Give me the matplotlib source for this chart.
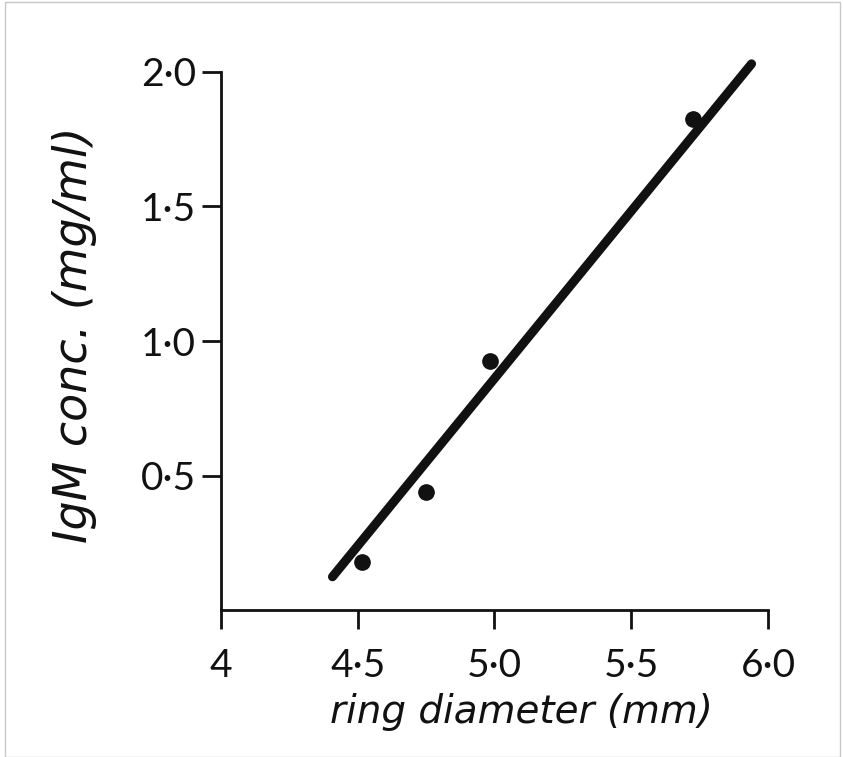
# IgM concentration vs ring diameter (calibration line)
import matplotlib
matplotlib.use('Agg')
import matplotlib.pyplot as plt
from matplotlib.patches import Rectangle

ring_diam = [4.516, 4.75, 4.985, 5.726]
igm_conc = [0.18, 0.44, 0.926, 1.825]

fit_x = [4.408, 5.94]
fit_y = [0.124, 2.03]

xticks = [4.0, 4.5, 5.0, 5.5, 6.0]
xticklabels = ['4', '4·5', '5·0', '5·5', '6·0']
yticks = [0.5, 1.0, 1.5, 2.0]
yticklabels = ['0·5', '1·0', '1·5', '2·0']

plt.rcParams['font.family'] = ['DejaVu Sans']

fig = plt.figure(figsize=(8.43, 7.57), dpi=100)
ax = fig.add_axes([0.262, 0.194, 0.649, 0.711])

ax.plot(fit_x, fit_y, color='#111111', lw=6.5, solid_capstyle='round', clip_on=False)
ax.plot(ring_diam, igm_conc, 'o', color='#111111', ms=11, clip_on=False)

ax.set_xlim(4.0, 6.0)
ax.set_ylim(0, 2.0)
ax.spines['top'].set_visible(False)
ax.spines['right'].set_visible(False)
for s in ['left', 'bottom']:
    ax.spines[s].set_linewidth(2)
    ax.spines[s].set_color('#111111')

ax.set_xticks(xticks)
ax.set_xticklabels(xticklabels)
ax.set_yticks(yticks)
ax.set_yticklabels(yticklabels)
ax.tick_params(direction='out', length=14, width=2, color='#111111',
               labelsize=28, labelcolor='#111111')
ax.tick_params(axis='x', pad=13)
ax.tick_params(axis='y', pad=4)
for lab in ax.get_xticklabels() + ax.get_yticklabels():
    lab.set_fontfamily(['Lato', 'DejaVu Sans'])

ax.set_xlabel('ring diameter (mm)', fontsize=28, style='italic', va='center', color='#111111')
ax.xaxis.set_label_coords(0.55, -0.19)
ax.set_ylabel('IgM conc. (mg/ml)', fontsize=33, style='italic', va='center', color='#111111')
ax.yaxis.set_label_coords(-0.267, 0.511)

# faint frame round the scanned figure
fig.patches.append(Rectangle((0.006, 0.0), 0.991, 0.997, transform=fig.transFigure,
                             fill=False, edgecolor='#c8c8c8', lw=1))

fig.savefig('out.png', dpi=100)
